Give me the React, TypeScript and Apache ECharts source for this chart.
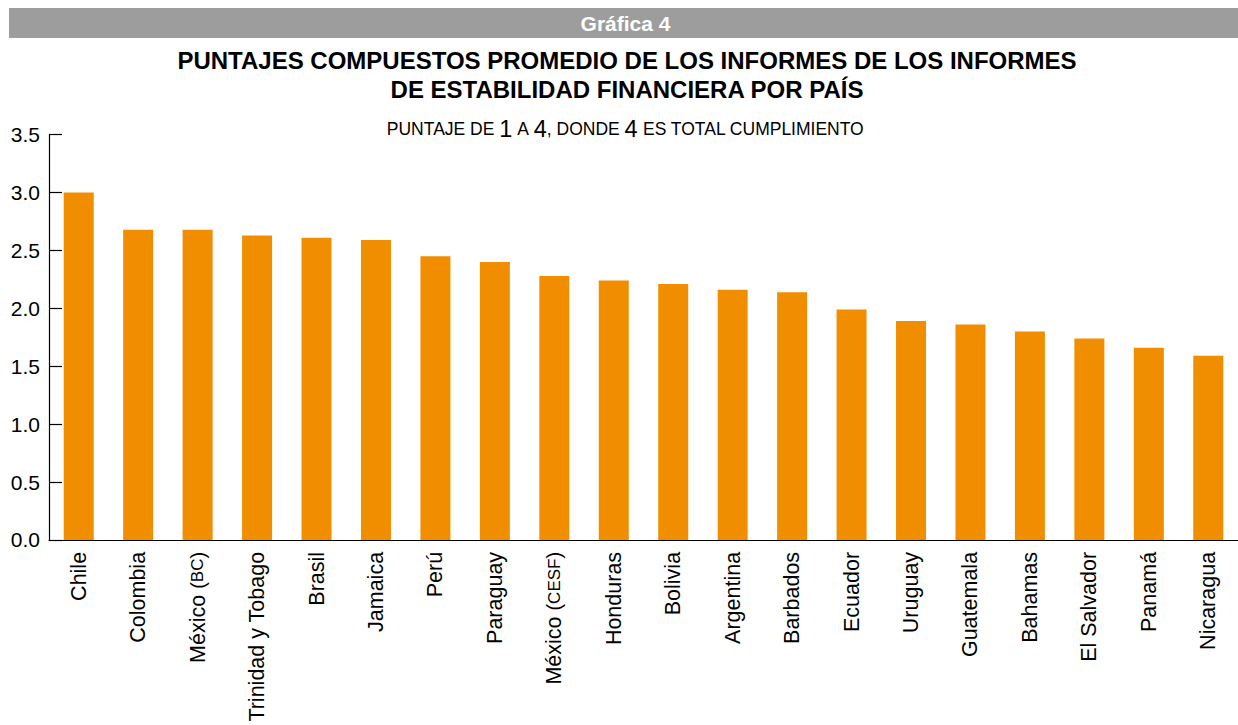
import React, { useEffect, useRef } from "react";
import * as echarts from "echarts";

const categories = [
  "Chile", "Colombia", "México {p|(}{sc|BC}{p|)}", "Trinidad y Tobago", "Brasil", "Jamaica", "Perú",
  "Paraguay", "México {p|(}{sc|CESF}{p|)}", "Honduras", "Bolivia", "Argentina", "Barbados", "Ecuador",
  "Uruguay", "Guatemala", "Bahamas", "El Salvador", "Panamá", "Nicaragua",
];
const scores = [
  3.0, 2.68, 2.68, 2.63, 2.61, 2.59, 2.45, 2.4, 2.28, 2.24, 2.21, 2.16, 2.14, 1.99,
  1.89, 1.86, 1.8, 1.74, 1.66, 1.59,
];
const yTicks = { min: 0, max: 3.5, interval: 0.5 };

const headerText = "Gráfica 4";
const titleLines = [
  "PUNTAJES COMPUESTOS PROMEDIO DE LOS INFORMES DE LOS INFORMES",
  "DE ESTABILIDAD FINANCIERA POR PAÍS",
];
const subtitleRich =
  "{a|PUNTAJE DE }{d|1}{a| A }{d|4}{a|, DONDE }{d|4}{a| ES TOTAL CUMPLIMIENTO}";

const FONT = "'Liberation Sans', Arial, Helvetica, sans-serif";

export default function App() {
  const ref = useRef<HTMLDivElement>(null);
  useEffect(() => {
    if (!ref.current) return;
    const chart = echarts.init(ref.current, undefined, { renderer: "svg" });
    chart.setOption({
      animation: false,
      textStyle: { fontFamily: FONT },
      grid: { left: 49, top: 134.7, bottom: 184, right: -7, containLabel: false },
      xAxis: {
        type: "category",
        data: categories,
        axisLine: { lineStyle: { color: "#000", width: 1.2 } },
        axisTick: { inside: true, length: 13, lineStyle: { color: "#000", width: 1.2 } },
        axisLabel: {
          rotate: 90,
          interval: 0,
          margin: 12,
          color: "#000",
          fontSize: 21.5,
          fontFamily: FONT,
          rich: {
            sc: { fontSize: 17, fontFamily: FONT, color: "#000" },
            p: { fontSize: 20, fontFamily: FONT, color: "#000" },
          },
        },
      },
      yAxis: {
        type: "value",
        min: yTicks.min,
        max: yTicks.max,
        interval: yTicks.interval,
        splitLine: { show: false },
        axisLine: { show: true, lineStyle: { color: "#000", width: 1.2 } },
        axisTick: { show: true, inside: true, length: 13, lineStyle: { color: "#000", width: 1.2 } },
        axisLabel: {
          color: "#000",
          fontSize: 21,
          margin: 9,
          fontFamily: FONT,
          formatter: (v: number) => v.toFixed(1),
        },
      },
      series: [
        {
          type: "bar",
          data: scores,
          barWidth: 30,
          itemStyle: { color: "#F18E00" },
        },
      ],
      graphic: [
        {
          type: "rect",
          shape: { x: 9, y: 8, width: 1229, height: 30 },
          style: { fill: "#9d9d9d" },
          silent: true,
        },
        {
          type: "text",
          x: 625.5,
          y: 23,
          style: {
            text: headerText,
            fill: "#fff",
            font: `bold 21px ${FONT}`,
            textAlign: "center",
            textVerticalAlign: "middle",
          },
        },
        {
          type: "text",
          x: 627,
          y: 60,
          style: {
            text: titleLines[0],
            fill: "#000",
            font: `bold 24px ${FONT}`,
            textAlign: "center",
            textVerticalAlign: "middle",
          },
        },
        {
          type: "text",
          x: 627,
          y: 89,
          style: {
            text: titleLines[1],
            fill: "#000",
            font: `bold 24px ${FONT}`,
            textAlign: "center",
            textVerticalAlign: "middle",
          },
        },
        {
          type: "text",
          x: 625.5,
          y: 129,
          style: {
            text: subtitleRich,
            fill: "#000",
            textAlign: "center",
            textVerticalAlign: "middle",
            rich: {
              a: { fontSize: 17.5, fontFamily: FONT, color: "#000" },
              d: { fontSize: 23.5, fontFamily: FONT, color: "#000" },
            },
          },
        },
      ],
    });
    return () => chart.dispose();
  }, []);
  return (
    <div
      ref={ref}
      style={{ position: "absolute", left: 0, top: 0, width: 1238, height: 725 }}
    />
  );
}
